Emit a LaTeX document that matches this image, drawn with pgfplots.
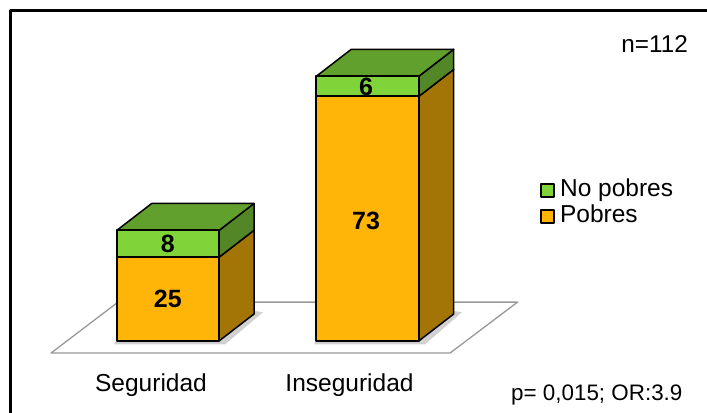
\documentclass[border=0pt]{standalone}
\usepackage{fontspec}
\setmainfont{Liberation Sans}
\usepackage{pgfplots}
\pgfplotsset{compat=1.18}

\definecolor{ora}{HTML}{FFB508}
\definecolor{oraside}{HTML}{A37506}
\definecolor{gre}{HTML}{80D43A}
\definecolor{gretop}{HTML}{61A02C}
\definecolor{greside}{HTML}{538627}

\begin{document}
\begin{tikzpicture}
\path[use as bounding box] (0,0) rectangle (707bp,413bp);
\begin{axis}[
    scale only axis,
    width=707bp,
    height=413bp,
    xmin=0, xmax=707,
    ymin=-21.49, ymax=101.79,
    axis lines=none,
    clip=false,
    legend style={at={(540/707,1-179/413)},anchor=north west,draw=none,fill=none,
        font=\fontsize{24.5bp}{26bp}\selectfont,inner sep=0pt,outer sep=0pt,
        row sep=3bp,
        /tikz/every odd column/.append style={column sep=5.5bp},
        nodes={inner sep=0pt,text height=17.5bp,text depth=5.5bp}},
    legend cell align=left,
    legend image code/.code={
        \draw[#1,line width=1.6bp] (0.5bp,-6.5bp) rectangle (13.5bp,6.5bp);
    },
    every axis plot/.append style={line join=round},
]

% frame
\addplot[black,line width=2.5bp,forget plot] coordinates {(10.5,-21.49) (10.5,98.6) (707,98.6)};

% floor
\addplot[fill=white,draw=black!40,line width=1.3bp,forget plot] coordinates {
    (51,-3.6) (118,11.6) (517.5,11.6) (450,-3.6)} --cycle;

% soft shadows on the floor
\addplot[fill=black!18,draw=none,forget plot] coordinates {(114,-1) (225,-1) (263,8.6) (254,9) (219,0) (116,0)} --cycle;
\addplot[fill=black!18,draw=none,forget plot] coordinates {(314,-1) (425,-1) (462,8.6) (453,9) (418,0) (316,0)} --cycle;

% sides and tops, bar 1
\addplot[fill=oraside,draw=black,line width=1.5bp,forget plot] coordinates {(219,0) (254,8.06) (254,33.06) (219,25)} --cycle;
\addplot[fill=greside,draw=black,line width=1.5bp,forget plot] coordinates {(219,25) (254,33.06) (254,41.06) (219,33)} --cycle;
\addplot[fill=gretop,draw=black,line width=1.5bp,forget plot] coordinates {(116.7,33) (151.7,41.06) (254,41.06) (219,33)} --cycle;

% sides and tops, bar 2
\addplot[fill=oraside,draw=black,line width=1.5bp,forget plot] coordinates {(418.7,0) (453.7,8.06) (453.7,81.06) (418.7,73)} --cycle;
\addplot[fill=greside,draw=black,line width=1.5bp,forget plot] coordinates {(418.7,73) (453.7,81.06) (453.7,87.06) (418.7,79)} --cycle;
\addplot[fill=gretop,draw=black,line width=1.5bp,forget plot] coordinates {(316.2,79) (351.2,87.06) (453.7,87.06) (418.7,79)} --cycle;

% front faces
\addplot[ybar stacked,bar width=102.5,fill=ora,draw=black,line width=2bp,forget plot]
    coordinates {(167.85,25) (367.45,73)};
\addplot[ybar stacked,bar width=102.5,fill=gre,draw=black,line width=2bp,forget plot]
    coordinates {(167.85,8) (367.45,6)};

% value labels
\addplot[draw=none,forget plot,point meta=explicit symbolic,
    nodes near coords,
    every node near coord/.append style={anchor=center,text=black,inner sep=0pt,
        font=\fontsize{25bp}{25bp}\selectfont\bfseries}]
    coordinates {(167.85,12.5)[25] (167.85,29)[8] (366,35.7)[73] (366,76)[6]};

% legend
\addlegendimage{fill=gre,draw=black}
\addlegendentry{No pobres}
\addlegendimage{fill=ora,draw=black}
\addlegendentry{Pobres}
\end{axis}
\begin{scope}[every node/.style={inner sep=0pt,text=black}]
\node[anchor=base,font=\fontsize{24.5bp}{24.5bp}\selectfont] at (151bp,413bp-391bp) {Seguridad};
\node[anchor=base,font=\fontsize{24.5bp}{24.5bp}\selectfont] at (349.5bp,413bp-391bp) {Inseguridad};
\node[anchor=base east,font=\fontsize{24.3bp}{24.3bp}\selectfont] at (688bp,413bp-53bp) {n=112};
\node[anchor=base west,font=\fontsize{22.4bp}{22.4bp}\selectfont] at (511bp,413bp-400bp) {p= 0,015; OR:3.9};
\end{scope}
\end{tikzpicture}
\end{document}
